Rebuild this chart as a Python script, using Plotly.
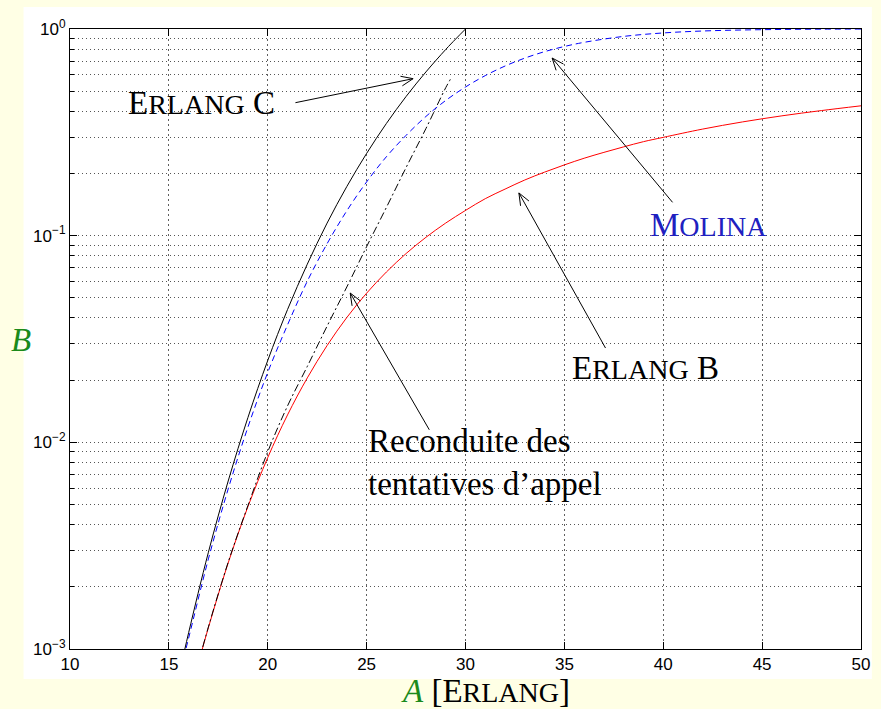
import numpy as np
import plotly.graph_objects as go

# ---------------- data (N = 30 circuits) ----------------
# Erlang C : probability of waiting
load_c = [15.5, 16, 17, 18, 19, 20, 21, 22, 23, 24, 25, 26, 27, 28, 29, 29.5, 30]
erlang_c = [0.00074, 0.0012, 0.00294, 0.0065, 0.0132, 0.0249, 0.0439, 0.0728,
            0.115, 0.173, 0.250, 0.349, 0.472, 0.620, 0.796, 0.894, 1.0]

# Molina : lost calls held
load_molina = [15.5, 16, 17, 18, 19, 20, 21, 22, 23, 24, 25, 26, 27, 28, 29, 30,
               31, 32, 33, 34, 35, 36, 38, 40, 42, 44, 46, 48, 50]
molina = [0.00073, 0.00113, 0.00273, 0.00595, 0.01186, 0.0218, 0.0370, 0.0602,
          0.0914, 0.132, 0.182, 0.241, 0.306, 0.3775, 0.451, 0.524,
          0.595, 0.662, 0.723, 0.777, 0.823, 0.862, 0.921, 0.957, 0.978,
          0.989, 0.995, 0.998, 0.999]

# Erlang B : lost calls cleared
load_b = [16.5, 17, 18, 19, 20, 21, 22, 23, 24, 25, 26, 27, 28, 29, 30,
          31, 32, 33, 34, 35, 36, 37, 38, 39, 40, 42, 44, 46, 48, 50]
erlang_b = [0.00086, 0.00127, 0.00261, 0.00489, 0.00844, 0.01357, 0.0205, 0.0294,
            0.0402, 0.0527, 0.0667, 0.0820, 0.0982, 0.1151, 0.1325,
            0.151, 0.168, 0.186, 0.203, 0.220, 0.237, 0.253, 0.269, 0.285, 0.299,
            0.328, 0.355, 0.380, 0.403, 0.425]

# Call attempts repeated after blocking
load_retry = [16.5, 17, 18, 19, 20, 21, 22, 23, 24, 25, 26, 27, 28, 29, 29.3]
retry = [0.00086, 0.00128, 0.00263, 0.00495, 0.0090, 0.0150, 0.0233, 0.0365,
         0.0565, 0.0885, 0.137, 0.214, 0.330, 0.520, 0.585]

x_ticks = [10, 15, 20, 25, 30, 35, 40, 45, 50]
y_ticks = [1e-3, 1e-2, 1e-1, 1.0]
y_tick_text = ["10<sup>−3</sup>", "10<sup>−2</sup>", "10<sup>−1</sup>", "10<sup>0</sup>"]
y_minor = [k * 10.0 ** e for e in (-3, -2, -1) for k in range(2, 10)]

# ---------------- geometry ----------------
W, H = 881, 709
ML, MR, MT, MB = 70, 11, 29, 60
PW, PH = W - ML - MR, H - MT - MB
X_RANGE = (10, 50)
Y_RANGE = (-3, 0)

BG = "#ffffe5"
GREEN = "#1b8a1b"
SERIF = "Liberation Serif"
SANS = "Liberation Sans"
SC = 28  # size of the small-capital letters


def small_caps(word):
    """First letter full size, the rest as reduced capitals."""
    return word[0] + f"<span style='font-size:{SC}px'>{word[1:].upper()}</span>"


def to_px(a, b):
    xp = ML + (a - X_RANGE[0]) / (X_RANGE[1] - X_RANGE[0]) * PW
    yp = MT + (Y_RANGE[1] - np.log10(b)) / (Y_RANGE[1] - Y_RANGE[0]) * PH
    return xp, yp


def px_to_paper(xp, yp):
    return (xp - ML) / PW, (H - MB - yp) / PH


fig = go.Figure()

fig.add_trace(go.Scatter(x=load_b, y=erlang_b, mode="lines", name="Erlang B",
                         line=dict(color="#ff0000", width=1, shape="spline")))
fig.add_trace(go.Scatter(x=load_retry, y=retry, mode="lines", name="Reconduite",
                         line=dict(color="black", width=1, dash="8px,3px,2px,3px",
                                   shape="spline")))
fig.add_trace(go.Scatter(x=load_molina, y=molina, mode="lines", name="Molina",
                         line=dict(color="#0000ff", width=1, dash="6px,4px",
                                   shape="spline")))
fig.add_trace(go.Scatter(x=load_c, y=erlang_c, mode="lines", name="Erlang C",
                         line=dict(color="black", width=1, shape="spline")))

shapes = []
# white panel behind the axes
x0, y0 = px_to_paper(23, 679)
x1, y1 = px_to_paper(W, 7)
shapes.append(dict(type="rect", xref="paper", yref="paper", x0=x0, y0=y0, x1=x1, y1=y1,
                   fillcolor="white", line=dict(width=0), layer="below"))


def arrow(tail, head, arm=13, half_angle=22):
    """Straight arrow with an open V head, given in data coordinates."""
    tx, ty = to_px(*tail)
    hx, hy = to_px(*head)
    ang = np.arctan2(ty - hy, tx - hx)
    out = []
    segs = [((tx, ty), (hx, hy))]
    for s in (-1, 1):
        a = ang + s * np.radians(half_angle)
        segs.append(((hx, hy), (hx + arm * np.cos(a), hy + arm * np.sin(a))))
    for (ax_, ay_), (bx_, by_) in segs:
        p0 = px_to_paper(ax_, ay_)
        p1 = px_to_paper(bx_, by_)
        out.append(dict(type="line", xref="paper", yref="paper",
                        x0=p0[0], y0=p0[1], x1=p1[0], y1=p1[1],
                        line=dict(color="black", width=1)))
    return out


shapes += arrow((21.4, 0.44), (27.35, 0.575))      # Erlang C
shapes += arrow((40.47, 0.145), (34.38, 0.724))    # Molina
shapes += arrow((37.08, 0.0286), (32.7, 0.161))    # Erlang B
shapes += arrow((28.17, 0.0115), (24.17, 0.0528))  # Reconduite

annotations = []


def label(text, a, b, color="black", xanchor="center", align="center"):
    annotations.append(dict(text=text, x=a, y=np.log10(b), xref="x", yref="y",
                            showarrow=False, xanchor=xanchor, yanchor="middle", align=align,
                            font=dict(family=SERIF, size=33, color=color)))


label(small_caps("Erlang") + " C", 16.63, 0.44)
label(small_caps("Molina"), 42.3, 0.113, color="#2020c0")
label(small_caps("Erlang") + " B", 39.1, 0.0230)
label("Reconduite des<br>tentatives d’appel", 24.95, 0.0080, xanchor="left", align="left")

# axis titles
bx, by = px_to_paper(20, 340)
annotations.append(dict(text="<i>B</i>", x=bx, y=by, xref="paper", yref="paper",
                        showarrow=False, xanchor="center", yanchor="middle",
                        font=dict(family=SERIF, size=33, color=GREEN)))
ax_, ay_ = px_to_paper(490, 691)
annotations.append(dict(text=f"<span style='color:{GREEN}'><i>A</i></span> [" + small_caps("Erlang") + "]",
                        x=ax_, y=ay_, xref="paper", yref="paper",
                        showarrow=False, xanchor="center", yanchor="middle",
                        font=dict(family=SERIF, size=33, color="black")))

grid_dash = "1px,3px"
fig.update_layout(
    width=W, height=H,
    margin=dict(l=ML, r=MR, t=MT, b=MB, pad=0),
    paper_bgcolor=BG, plot_bgcolor="white",
    showlegend=False,
    shapes=shapes, annotations=annotations,
    xaxis=dict(range=list(X_RANGE), tickmode="linear", tick0=10, dtick=5,
               ticks="inside", ticklen=7, tickcolor="black", tickwidth=1,
               showline=True, linecolor="black", linewidth=1, mirror="ticks",
               showgrid=True, gridcolor="#606060", gridwidth=1, griddash="2px,3px",
               zeroline=False, tickfont=dict(family=SANS, size=17, color="black")),
    yaxis=dict(type="log", range=list(Y_RANGE), tickmode="array", tickvals=y_ticks,
               ticktext=y_tick_text,
               ticks="inside", ticklen=7, tickcolor="black", tickwidth=1,
               showline=True, linecolor="black", linewidth=1, mirror="ticks",
               showgrid=True, gridcolor="#555555", gridwidth=1, griddash=grid_dash,
               zeroline=False, tickfont=dict(family=SANS, size=17, color="black"),
               minor=dict(tickmode="array", tickvals=y_minor, ticks="inside", ticklen=4,
                          tickcolor="black", showgrid=True, gridcolor="#555555",
                          griddash=grid_dash, gridwidth=1)),
)

fig.write_html("out.html")
